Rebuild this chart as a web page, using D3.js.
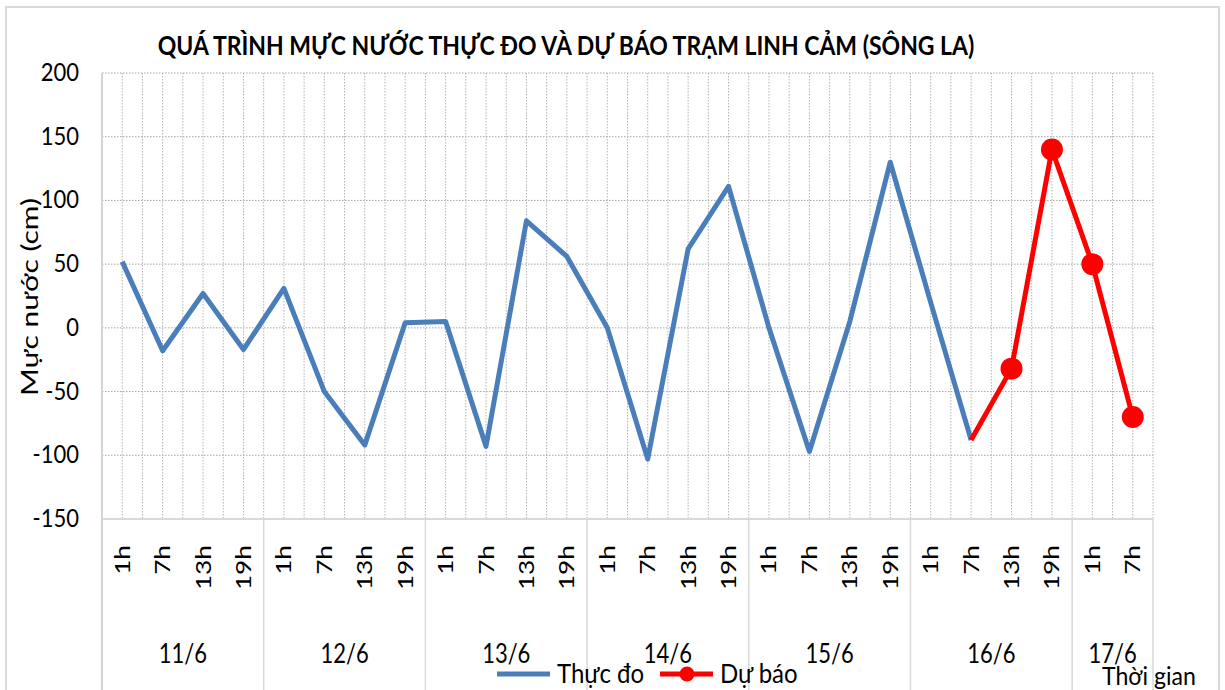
<!DOCTYPE html>
<html>
<head>
<meta charset="utf-8">
<script src="https://cdn.jsdelivr.net/npm/d3@7"></script>
<style>
  body { margin: 0; background: #fff; }
  svg text { font-family: Lato, "Open Sans", sans-serif; fill: #000; }
</style>
</head>
<body>
<script>
// data
const days = ["11/6", "12/6", "13/6", "14/6", "15/6", "16/6", "17/6"];
const hours = ["1h", "7h", "13h", "19h"];
const hoursLastDay = ["1h", "7h"];
const observed = [52, -18, 27, -17, 31, -50, -92, 4, 5, -93, 84, 56, 0, -103, 62, 111, 0, -97, 5, 130, 20, -88];
const forecast = [null, null, null, null, null, null, null, null, null, null, null, null, null, null, null, null, null, null, null, null, null, -88, -32, 140, 50, -70];
const yTicks = [200, 150, 100, 50, 0, -50, -100, -150];

const W = 1225, H = 690;
const margin = {top: 73, left: 102, right: 72, bottom: 171};

// categories: one per hour slot, grouped by day
let cats = [];
days.forEach((d, di) => {
    let hs = di === days.length - 1 ? hoursLastDay : hours;
    hs.forEach(h => cats.push({day: d, hour: h, key: d + " " + h}));
});

let svg = d3.select("body").append("svg")
    .attr("width", W)
    .attr("height", H);

// the reference text looks a bit tall and narrow, so texts get a stretch
let tf = (x, y, rot, sx, sy) =>
    "translate(" + x + "," + y + ")" + (rot ? " rotate(" + rot + ")" : "") + " scale(" + sx + "," + sy + ")";

// outer chart frame
svg.append("rect")
    .attr("x", 6).attr("y", 7)
    .attr("width", W - 12).attr("height", H + 20)
    .attr("fill", "none")
    .attr("stroke", "#d9d9d9")
    .attr("stroke-width", 2);

let x = d3.scaleBand()
    .domain(cats.map(c => c.key))
    .range([margin.left, W - margin.right]);
let bw = x.bandwidth();
let cx = k => x(k) + bw / 2;

let y = d3.scaleLinear()
    .domain([-150, 200])
    .range([H - margin.bottom, margin.top]);

let grid = svg.append("g");

// horizontal dotted gridlines
grid.selectAll("line.h")
    .data(yTicks.filter(t => t !== -150))
    .enter().append("line")
    .attr("class", "h")
    .attr("x1", margin.left).attr("x2", W - margin.right)
    .attr("y1", d => y(d)).attr("y2", d => y(d))
    .attr("stroke", "#a6a6a6")
    .attr("stroke-dasharray", "1.5,1.5");

// vertical dotted gridlines (category centre and boundary)
let vx = [];
cats.forEach(c => { vx.push(cx(c.key)); vx.push(x(c.key) + bw); });
grid.selectAll("line.v")
    .data(vx)
    .enter().append("line")
    .attr("class", "v")
    .attr("x1", d => d).attr("x2", d => d)
    .attr("y1", margin.top).attr("y2", y(-150))
    .attr("stroke", "#b3b3b3")
    .attr("stroke-dasharray", "1.5,1.5");

// axis lines
svg.append("line")
    .attr("x1", margin.left).attr("x2", margin.left)
    .attr("y1", margin.top).attr("y2", H)
    .attr("stroke", "#d4d4d4").attr("stroke-width", 2);
svg.append("line")
    .attr("x1", margin.left).attr("x2", W - margin.right)
    .attr("y1", y(-150)).attr("y2", y(-150))
    .attr("stroke", "#d9d9d9").attr("stroke-width", 2);

// day separators in the category area
let dayStarts = days.map(d => cats.find(c => c.day === d).key);
svg.selectAll("line.sep")
    .data(dayStarts.slice(1))
    .enter().append("line")
    .attr("x1", d => x(d)).attr("x2", d => x(d))
    .attr("y1", y(-150)).attr("y2", H)
    .attr("stroke", "#d9d9d9").attr("stroke-width", 1.5);
svg.append("line")
    .attr("x1", W - margin.right).attr("x2", W - margin.right)
    .attr("y1", y(-150)).attr("y2", H)
    .attr("stroke", "#d9d9d9").attr("stroke-width", 1.5);

// y tick labels
svg.selectAll("text.yt")
    .data(yTicks)
    .enter().append("text")
    .attr("transform", d => tf(79, y(d) + 8, 0, 1, 1.1))
    .attr("text-anchor", "end")
    .style("font-size", "22px")
    .text(d => d);

// y axis title
svg.append("text")
    .attr("transform", tf(38, 297, -90, 1.25, 1))
    .attr("text-anchor", "middle")
    .style("font-size", "24px")
    .text("Mực nước (cm)");

// hour labels (rotated)
svg.selectAll("text.hr")
    .data(cats)
    .enter().append("text")
    .attr("transform", d => tf(cx(d.key) + 7.5, 545, -90, 1.25, 1))
    .attr("text-anchor", "end")
    .style("font-size", "21px")
    .text(d => d.hour);

// day labels
svg.selectAll("text.day")
    .data(days)
    .enter().append("text")
    .attr("transform", d => {
        let ks = cats.filter(c => c.day === d).map(c => c.key);
        return tf((x(ks[0]) + x(ks[ks.length - 1]) + bw) / 2, 663, 0, 1, 1.2);
    })
    .attr("text-anchor", "middle")
    .style("font-size", "22px")
    .text(d => d);

// series
let line = d3.line()
    .defined(d => d.v !== null)
    .x(d => cx(d.k))
    .y(d => y(d.v));

let obsData = observed.map((v, i) => ({k: cats[i].key, v: v}));
let fcData = forecast.map((v, i) => ({k: cats[i].key, v: v}));

svg.append("path")
    .datum(obsData)
    .attr("d", line)
    .attr("fill", "none")
    .attr("stroke", "#4a7ebb")
    .attr("stroke-width", 5)
    .attr("stroke-linejoin", "round");

svg.append("path")
    .datum(fcData)
    .attr("d", line)
    .attr("fill", "none")
    .attr("stroke", "#ff0000")
    .attr("stroke-width", 5)
    .attr("stroke-linejoin", "round");

// forecast markers (first point joins the observed line, no marker)
let firstFc = forecast.findIndex(v => v !== null);
svg.selectAll("circle.fc")
    .data(fcData.filter((d, i) => d.v !== null && i > firstFc))
    .enter().append("circle")
    .attr("cx", d => cx(d.k))
    .attr("cy", d => y(d.v))
    .attr("r", 11)
    .attr("fill", "#ff0000");

// title
svg.append("text")
    .attr("transform", tf(566, 55, 0, 1, 1.15))
    .attr("text-anchor", "middle")
    .style("font-size", "23px")
    .style("font-weight", "bold")
    .text("QUÁ TRÌNH MỰC NƯỚC THỰC ĐO VÀ DỰ BÁO TRẠM LINH CẢM (SÔNG LA)");

// legend
let leg = svg.append("g");
leg.append("line")
    .attr("x1", 497).attr("x2", 550)
    .attr("y1", 674).attr("y2", 674)
    .attr("stroke", "#4a7ebb").attr("stroke-width", 5);
leg.append("text")
    .attr("transform", tf(557, 683, 0, 1, 1.15))
    .style("font-size", "24px")
    .text("Thực đo");
leg.append("line")
    .attr("x1", 660).attr("x2", 713)
    .attr("y1", 674).attr("y2", 674)
    .attr("stroke", "#ff0000").attr("stroke-width", 5);
leg.append("circle")
    .attr("cx", 687).attr("cy", 674).attr("r", 7.5)
    .attr("fill", "#ff0000");
leg.append("text")
    .attr("transform", tf(720, 683, 0, 1, 1.15))
    .style("font-size", "24px")
    .text("Dự báo");

// x axis title
svg.append("text")
    .attr("transform", tf(1102, 685, 0, 1.05, 1.15))
    .style("font-size", "22px")
    .text("Thời gian");
</script>
</body>
</html>
